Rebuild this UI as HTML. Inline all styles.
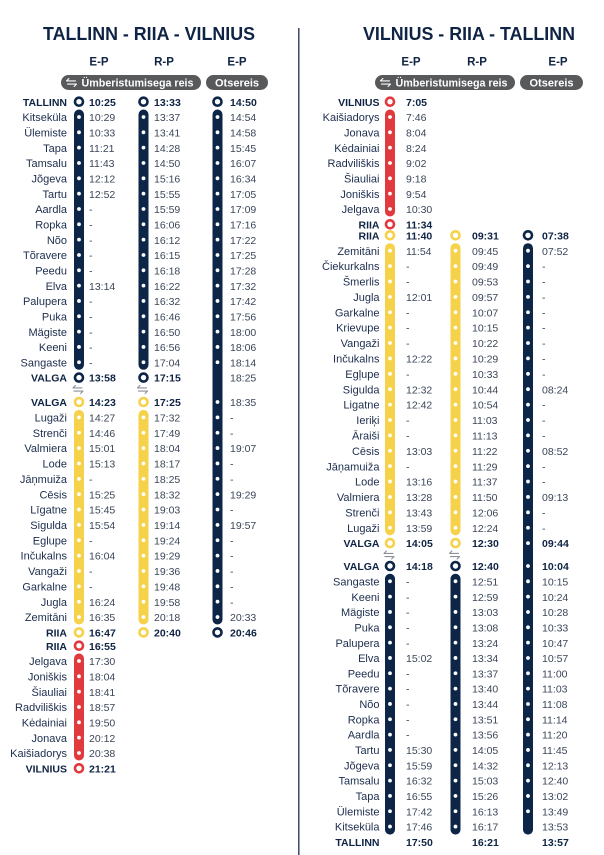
<!DOCTYPE html>
<html><head><meta charset="utf-8">
<style>
html,body{margin:0;padding:0;background:#fff;}
svg{display:block}
text{font-family:"Liberation Sans",sans-serif}
.ti{font-size:18px;font-weight:bold;fill:#0f2344}
.h{font-size:11.5px;font-weight:bold;fill:#0f2344;text-anchor:middle}
.p{font-size:11px;font-weight:bold;fill:#fff}
.s{font-size:11px;fill:#1c2d4d;text-anchor:end}
.sb{font-size:10.5px;font-weight:bold;fill:#0f2344;text-anchor:end}
.t{font-size:10.5px;fill:#3a4659}
.tb{font-size:10.5px;font-weight:bold;fill:#0f2344}
.nv{fill:#0d2647}
.yl{fill:#f6d24b}
.rd{fill:#e0393e}
.cn{fill:#fff;stroke:#0d2647;stroke-width:2.6}
.cy{fill:#fff;stroke:#f6d24b;stroke-width:2.6}
.cr{fill:#fff;stroke:#e0393e;stroke-width:2.6}
.d1{stroke:#fff;stroke-width:3.8;stroke-linecap:round;stroke-dasharray:0 15.33;fill:none}
.d2{stroke:#fff;stroke-width:3.8;stroke-linecap:round;stroke-dasharray:0 15.36;fill:none}
.d3{stroke:#fff;stroke-width:3.8;stroke-linecap:round;stroke-dasharray:0 15.39;fill:none}
.ar{fill:none;stroke:#8a8f99;stroke-width:1.1;stroke-linecap:round;stroke-linejoin:round}
.aw{fill:none;stroke:#fff;stroke-width:1.1;stroke-linecap:round;stroke-linejoin:round}
</style></head>
<body>
<svg width="604" height="855" viewBox="0 0 604 855" xmlns="http://www.w3.org/2000/svg">
<rect width="604" height="855" fill="#fff"/>
<line x1="298.8" y1="28" x2="298.8" y2="855" stroke="#2c3e5c" stroke-width="1.4"/>

<text class="ti" x="43" y="40" textLength="212" lengthAdjust="spacingAndGlyphs">TALLINN - RIIA - VILNIUS</text>
<text class="ti" x="363" y="40" textLength="212" lengthAdjust="spacingAndGlyphs">VILNIUS - RIIA - TALLINN</text>

<text class="h" x="99" y="65.5">E-P</text>
<text class="h" x="164" y="65.5">R-P</text>
<text class="h" x="237" y="65.5">E-P</text>
<text class="h" x="411" y="65.5">E-P</text>
<text class="h" x="477" y="65.5">R-P</text>
<text class="h" x="558" y="65.5">E-P</text>

<rect x="61" y="75" width="140" height="15" rx="7.5" fill="#58595b"/>
<g transform="translate(71.5,82.5)"><path class="aw" d="M-5,-1.6 H4 M-5,-1.6 L-2.6,-4 M-4,1.6 H5 M5,1.6 L2.6,4"/></g>
<text class="p" x="81.5" y="86.3" textLength="112" lengthAdjust="spacingAndGlyphs">Ümberistumisega reis</text>
<rect x="206" y="75" width="62" height="15" rx="7.5" fill="#58595b"/>
<text class="p" x="237" y="86.3" text-anchor="middle">Otsereis</text>

<rect x="375" y="75" width="140" height="15" rx="7.5" fill="#58595b"/>
<g transform="translate(385.5,82.5)"><path class="aw" d="M-5,-1.6 H4 M-5,-1.6 L-2.6,-4 M-4,1.6 H5 M5,1.6 L2.6,4"/></g>
<text class="p" x="395.5" y="86.3" textLength="112" lengthAdjust="spacingAndGlyphs">Ümberistumisega reis</text>
<rect x="520" y="75" width="63" height="15" rx="7.5" fill="#58595b"/>
<text class="p" x="551.5" y="86.3" text-anchor="middle">Otsereis</text>

<!-- LEFT TRACKS -->
<rect class="nv" x="74" y="109.5" width="10" height="260.3" rx="5"/>
<line class="d1" x1="79" y1="117" x2="79" y2="362.3"/>
<circle class="cn" cx="79" cy="101.7" r="4"/>
<circle class="cn" cx="79" cy="377.6" r="4"/>
<g transform="translate(78,389.5)"><path class="ar" d="M-5,-1.6 H4 M-5,-1.6 L-2.6,-4 M-4,1.6 H5 M5,1.6 L2.6,4"/></g>
<rect class="yl" x="74" y="409.9" width="10" height="214.6" rx="5"/>
<line class="d2" x1="79" y1="417.4" x2="79" y2="617.1"/>
<circle class="cy" cx="79" cy="402" r="4"/>
<circle class="cy" cx="79" cy="632.4" r="4"/>
<rect class="rd" x="74" y="653.5" width="10" height="107" rx="5"/>
<line class="d1" x1="79" y1="661" x2="79" y2="753"/>
<circle class="cr" cx="79" cy="645.7" r="4"/>
<circle class="cr" cx="79" cy="768.3" r="4"/>

<rect class="nv" x="138.5" y="109.5" width="10" height="260.3" rx="5"/>
<line class="d1" x1="143.5" y1="117" x2="143.5" y2="362.3"/>
<circle class="cn" cx="143.5" cy="101.7" r="4"/>
<circle class="cn" cx="143.5" cy="377.6" r="4"/>
<g transform="translate(142.5,389.5)"><path class="ar" d="M-5,-1.6 H4 M-5,-1.6 L-2.6,-4 M-4,1.6 H5 M5,1.6 L2.6,4"/></g>
<rect class="yl" x="138.5" y="409.9" width="10" height="214.6" rx="5"/>
<line class="d2" x1="143.5" y1="417.4" x2="143.5" y2="617.1"/>
<circle class="cy" cx="143.5" cy="402" r="4"/>
<circle class="cy" cx="143.5" cy="632.4" r="4"/>

<rect class="nv" x="212.5" y="109.5" width="10" height="515" rx="5"/>
<line class="d1" x1="217.5" y1="117" x2="217.5" y2="377.6"/>
<line class="d2" x1="217.5" y1="402" x2="217.5" y2="617.1"/>
<circle class="cn" cx="217.5" cy="101.7" r="4"/>
<circle class="cn" cx="217.5" cy="632.4" r="4"/>

<!-- RIGHT TRACKS -->
<rect class="rd" x="385" y="109.5" width="10" height="107" rx="5"/>
<line class="d1" x1="390" y1="117" x2="390" y2="209"/>
<circle class="cr" cx="390" cy="101.7" r="4"/>
<circle class="cr" cx="390" cy="224.3" r="4"/>
<rect class="yl" x="385" y="243.2" width="10" height="292" rx="5"/>
<line class="d3" x1="390" y1="250.7" x2="390" y2="527.8"/>
<circle class="cy" cx="390" cy="235.3" r="4"/>
<circle class="cy" cx="390" cy="543.1" r="4"/>
<g transform="translate(389,555)"><path class="ar" d="M-5,-1.6 H4 M-5,-1.6 L-2.6,-4 M-4,1.6 H5 M5,1.6 L2.6,4"/></g>
<rect class="nv" x="385" y="573.8" width="10" height="260.8" rx="5"/>
<line class="d1" x1="390" y1="581.3" x2="390" y2="826.6"/>
<circle class="cn" cx="390" cy="566" r="4"/>

<rect class="yl" x="450.5" y="243.2" width="10" height="292" rx="5"/>
<line class="d3" x1="455.5" y1="250.7" x2="455.5" y2="527.8"/>
<circle class="cy" cx="455.5" cy="235.3" r="4"/>
<circle class="cy" cx="455.5" cy="543.1" r="4"/>
<g transform="translate(454.5,555)"><path class="ar" d="M-5,-1.6 H4 M-5,-1.6 L-2.6,-4 M-4,1.6 H5 M5,1.6 L2.6,4"/></g>
<rect class="nv" x="450.5" y="573.8" width="10" height="260.8" rx="5"/>
<line class="d1" x1="455.5" y1="581.3" x2="455.5" y2="826.6"/>
<circle class="cn" cx="455.5" cy="566" r="4"/>

<rect class="nv" x="523" y="243.2" width="10" height="591.4" rx="5"/>
<line class="d3" x1="528" y1="250.7" x2="528" y2="543.2"/>
<line class="d1" x1="528" y1="566" x2="528" y2="826.6"/>
<circle class="cn" cx="528" cy="235.3" r="4"/>

<!-- LEFT STATIONS -->
<g transform="translate(67,0.3)">
<text class="sb" y="105.5">TALLINN</text>
<text class="s" y="120.8">Kitseküla</text>
<text class="s" y="136.2">Ülemiste</text>
<text class="s" y="151.5">Tapa</text>
<text class="s" y="166.8">Tamsalu</text>
<text class="s" y="182.2">Jõgeva</text>
<text class="s" y="197.5">Tartu</text>
<text class="s" y="212.8">Aardla</text>
<text class="s" y="228.1">Ropka</text>
<text class="s" y="243.5">Nõo</text>
<text class="s" y="258.8">Tõravere</text>
<text class="s" y="274.1">Peedu</text>
<text class="s" y="289.5">Elva</text>
<text class="s" y="304.8">Palupera</text>
<text class="s" y="320.1">Puka</text>
<text class="s" y="335.5">Mägiste</text>
<text class="s" y="350.8">Keeni</text>
<text class="s" y="366.1">Sangaste</text>
<text class="sb" y="381.4">VALGA</text>
<text class="sb" y="405.8">VALGA</text>
<text class="s" y="421.2">Lugaži</text>
<text class="s" y="436.5">Strenči</text>
<text class="s" y="451.9">Valmiera</text>
<text class="s" y="467.2">Lode</text>
<text class="s" y="482.6">Jāņmuiža</text>
<text class="s" y="498.0">Cēsis</text>
<text class="s" y="513.3">Līgatne</text>
<text class="s" y="528.7">Sigulda</text>
<text class="s" y="544.0">Eglupe</text>
<text class="s" y="559.4">Inčukalns</text>
<text class="s" y="574.8">Vangaži</text>
<text class="s" y="590.1">Garkalne</text>
<text class="s" y="605.5">Jugla</text>
<text class="s" y="620.8">Zemitāni</text>
<text class="sb" y="636.2">RIIA</text>
<text class="sb" y="649.5">RIIA</text>
<text class="s" y="664.8">Jelgava</text>
<text class="s" y="680.2">Joniškis</text>
<text class="s" y="695.5">Šiauliai</text>
<text class="s" y="710.8">Radviliškis</text>
<text class="s" y="726.2">Kėdainiai</text>
<text class="s" y="741.5">Jonava</text>
<text class="s" y="756.8">Kaišiadorys</text>
<text class="sb" y="772.1">VILNIUS</text>
</g>

<g transform="translate(89,0.3)">
<text class="tb" y="105.5">10:25</text>
<text class="t" y="120.8">10:29</text>
<text class="t" y="136.2">10:33</text>
<text class="t" y="151.5">11:21</text>
<text class="t" y="166.8">11:43</text>
<text class="t" y="182.2">12:12</text>
<text class="t" y="197.5">12:52</text>
<text class="t" y="212.8">-</text>
<text class="t" y="228.1">-</text>
<text class="t" y="243.5">-</text>
<text class="t" y="258.8">-</text>
<text class="t" y="274.1">-</text>
<text class="t" y="289.5">13:14</text>
<text class="t" y="304.8">-</text>
<text class="t" y="320.1">-</text>
<text class="t" y="335.5">-</text>
<text class="t" y="350.8">-</text>
<text class="t" y="366.1">-</text>
<text class="tb" y="381.4">13:58</text>
<text class="tb" y="405.8">14:23</text>
<text class="t" y="421.2">14:27</text>
<text class="t" y="436.5">14:46</text>
<text class="t" y="451.9">15:01</text>
<text class="t" y="467.2">15:13</text>
<text class="t" y="482.6">-</text>
<text class="t" y="498.0">15:25</text>
<text class="t" y="513.3">15:45</text>
<text class="t" y="528.7">15:54</text>
<text class="t" y="544.0">-</text>
<text class="t" y="559.4">16:04</text>
<text class="t" y="574.8">-</text>
<text class="t" y="590.1">-</text>
<text class="t" y="605.5">16:24</text>
<text class="t" y="620.8">16:35</text>
<text class="tb" y="636.2">16:47</text>
<text class="tb" y="649.5">16:55</text>
<text class="t" y="664.8">17:30</text>
<text class="t" y="680.2">18:04</text>
<text class="t" y="695.5">18:41</text>
<text class="t" y="710.8">18:57</text>
<text class="t" y="726.2">19:50</text>
<text class="t" y="741.5">20:12</text>
<text class="t" y="756.8">20:38</text>
<text class="tb" y="772.1">21:21</text>
</g>

<g transform="translate(154,0.3)">
<text class="tb" y="105.5">13:33</text>
<text class="t" y="120.8">13:37</text>
<text class="t" y="136.2">13:41</text>
<text class="t" y="151.5">14:28</text>
<text class="t" y="166.8">14:50</text>
<text class="t" y="182.2">15:16</text>
<text class="t" y="197.5">15:55</text>
<text class="t" y="212.8">15:59</text>
<text class="t" y="228.1">16:06</text>
<text class="t" y="243.5">16:12</text>
<text class="t" y="258.8">16:15</text>
<text class="t" y="274.1">16:18</text>
<text class="t" y="289.5">16:22</text>
<text class="t" y="304.8">16:32</text>
<text class="t" y="320.1">16:46</text>
<text class="t" y="335.5">16:50</text>
<text class="t" y="350.8">16:56</text>
<text class="t" y="366.1">17:04</text>
<text class="tb" y="381.4">17:15</text>
<text class="tb" y="405.8">17:25</text>
<text class="t" y="421.2">17:32</text>
<text class="t" y="436.5">17:49</text>
<text class="t" y="451.9">18:04</text>
<text class="t" y="467.2">18:17</text>
<text class="t" y="482.6">18:25</text>
<text class="t" y="498.0">18:32</text>
<text class="t" y="513.3">19:03</text>
<text class="t" y="528.7">19:14</text>
<text class="t" y="544.0">19:24</text>
<text class="t" y="559.4">19:29</text>
<text class="t" y="574.8">19:36</text>
<text class="t" y="590.1">19:48</text>
<text class="t" y="605.5">19:58</text>
<text class="t" y="620.8">20:18</text>
<text class="tb" y="636.2">20:40</text>
</g>

<g transform="translate(230,0.3)">
<text class="tb" y="105.5">14:50</text>
<text class="t" y="120.8">14:54</text>
<text class="t" y="136.2">14:58</text>
<text class="t" y="151.5">15:45</text>
<text class="t" y="166.8">16:07</text>
<text class="t" y="182.2">16:34</text>
<text class="t" y="197.5">17:05</text>
<text class="t" y="212.8">17:09</text>
<text class="t" y="228.1">17:16</text>
<text class="t" y="243.5">17:22</text>
<text class="t" y="258.8">17:25</text>
<text class="t" y="274.1">17:28</text>
<text class="t" y="289.5">17:32</text>
<text class="t" y="304.8">17:42</text>
<text class="t" y="320.1">17:56</text>
<text class="t" y="335.5">18:00</text>
<text class="t" y="350.8">18:06</text>
<text class="t" y="366.1">18:14</text>
<text class="t" y="381.4">18:25</text>
<text class="t" y="405.8">18:35</text>
<text class="t" y="421.2">-</text>
<text class="t" y="436.5">-</text>
<text class="t" y="451.9">19:07</text>
<text class="t" y="467.2">-</text>
<text class="t" y="482.6">-</text>
<text class="t" y="498.0">19:29</text>
<text class="t" y="513.3">-</text>
<text class="t" y="528.7">19:57</text>
<text class="t" y="544.0">-</text>
<text class="t" y="559.4">-</text>
<text class="t" y="574.8">-</text>
<text class="t" y="590.1">-</text>
<text class="t" y="605.5">-</text>
<text class="t" y="620.8">20:33</text>
<text class="tb" y="636.2">20:46</text>
</g>

<!-- RIGHT STATIONS -->
<g transform="translate(379.5,0.3)">
<text class="sb" y="105.5">VILNIUS</text>
<text class="s" y="120.8">Kaišiadorys</text>
<text class="s" y="136.2">Jonava</text>
<text class="s" y="151.5">Kėdainiai</text>
<text class="s" y="166.8">Radviliškis</text>
<text class="s" y="182.2">Šiauliai</text>
<text class="s" y="197.5">Joniškis</text>
<text class="s" y="212.8">Jelgava</text>
<text class="sb" y="228.1">RIIA</text>
<text class="sb" y="239.1">RIIA</text>
<text class="s" y="254.5">Zemitāni</text>
<text class="s" y="269.9">Čiekurkalns</text>
<text class="s" y="285.3">Šmerlis</text>
<text class="s" y="300.7">Jugla</text>
<text class="s" y="316.1">Garkalne</text>
<text class="s" y="331.4">Krievupe</text>
<text class="s" y="346.8">Vangaži</text>
<text class="s" y="362.2">Inčukalns</text>
<text class="s" y="377.6">Egļupe</text>
<text class="s" y="393.0">Sigulda</text>
<text class="s" y="408.4">Ligatne</text>
<text class="s" y="423.8">Ieriķi</text>
<text class="s" y="439.2">Āraiši</text>
<text class="s" y="454.6">Cēsis</text>
<text class="s" y="470.0">Jāņamuiža</text>
<text class="s" y="485.3">Lode</text>
<text class="s" y="500.7">Valmiera</text>
<text class="s" y="516.1">Strenči</text>
<text class="s" y="531.5">Lugaži</text>
<text class="sb" y="546.9">VALGA</text>
<text class="sb" y="569.8">VALGA</text>
<text class="s" y="585.1">Sangaste</text>
<text class="s" y="600.5">Keeni</text>
<text class="s" y="615.8">Mägiste</text>
<text class="s" y="631.1">Puka</text>
<text class="s" y="646.5">Palupera</text>
<text class="s" y="661.8">Elva</text>
<text class="s" y="677.1">Peedu</text>
<text class="s" y="692.4">Tõravere</text>
<text class="s" y="707.8">Nõo</text>
<text class="s" y="723.1">Ropka</text>
<text class="s" y="738.4">Aardla</text>
<text class="s" y="753.8">Tartu</text>
<text class="s" y="769.1">Jõgeva</text>
<text class="s" y="784.4">Tamsalu</text>
<text class="s" y="799.8">Tapa</text>
<text class="s" y="815.1">Ülemiste</text>
<text class="s" y="830.4">Kitseküla</text>
<text class="sb" y="845.8">TALLINN</text>
</g>

<g transform="translate(406,0.3)">
<text class="tb" y="105.5">7:05</text>
<text class="t" y="120.8">7:46</text>
<text class="t" y="136.2">8:04</text>
<text class="t" y="151.5">8:24</text>
<text class="t" y="166.8">9:02</text>
<text class="t" y="182.2">9:18</text>
<text class="t" y="197.5">9:54</text>
<text class="t" y="212.8">10:30</text>
<text class="tb" y="228.1">11:34</text>
<text class="tb" y="239.1">11:40</text>
<text class="t" y="254.5">11:54</text>
<text class="t" y="269.9">-</text>
<text class="t" y="285.3">-</text>
<text class="t" y="300.7">12:01</text>
<text class="t" y="316.1">-</text>
<text class="t" y="331.4">-</text>
<text class="t" y="346.8">-</text>
<text class="t" y="362.2">12:22</text>
<text class="t" y="377.6">-</text>
<text class="t" y="393.0">12:32</text>
<text class="t" y="408.4">12:42</text>
<text class="t" y="423.8">-</text>
<text class="t" y="439.2">-</text>
<text class="t" y="454.6">13:03</text>
<text class="t" y="470.0">-</text>
<text class="t" y="485.3">13:16</text>
<text class="t" y="500.7">13:28</text>
<text class="t" y="516.1">13:43</text>
<text class="t" y="531.5">13:59</text>
<text class="tb" y="546.9">14:05</text>
<text class="tb" y="569.8">14:18</text>
<text class="t" y="585.1">-</text>
<text class="t" y="600.5">-</text>
<text class="t" y="615.8">-</text>
<text class="t" y="631.1">-</text>
<text class="t" y="646.5">-</text>
<text class="t" y="661.8">15:02</text>
<text class="t" y="677.1">-</text>
<text class="t" y="692.4">-</text>
<text class="t" y="707.8">-</text>
<text class="t" y="723.1">-</text>
<text class="t" y="738.4">-</text>
<text class="t" y="753.8">15:30</text>
<text class="t" y="769.1">15:59</text>
<text class="t" y="784.4">16:32</text>
<text class="t" y="799.8">16:55</text>
<text class="t" y="815.1">17:42</text>
<text class="t" y="830.4">17:46</text>
<text class="tb" y="845.8">17:50</text>
</g>

<g transform="translate(472,0.3)">
<text class="tb" y="239.1">09:31</text>
<text class="t" y="254.5">09:45</text>
<text class="t" y="269.9">09:49</text>
<text class="t" y="285.3">09:53</text>
<text class="t" y="300.7">09:57</text>
<text class="t" y="316.1">10:07</text>
<text class="t" y="331.4">10:15</text>
<text class="t" y="346.8">10:22</text>
<text class="t" y="362.2">10:29</text>
<text class="t" y="377.6">10:33</text>
<text class="t" y="393.0">10:44</text>
<text class="t" y="408.4">10:54</text>
<text class="t" y="423.8">11:03</text>
<text class="t" y="439.2">11:13</text>
<text class="t" y="454.6">11:22</text>
<text class="t" y="470.0">11:29</text>
<text class="t" y="485.3">11:37</text>
<text class="t" y="500.7">11:50</text>
<text class="t" y="516.1">12:06</text>
<text class="t" y="531.5">12:24</text>
<text class="tb" y="546.9">12:30</text>
<text class="tb" y="569.8">12:40</text>
<text class="t" y="585.1">12:51</text>
<text class="t" y="600.5">12:59</text>
<text class="t" y="615.8">13:03</text>
<text class="t" y="631.1">13:08</text>
<text class="t" y="646.5">13:24</text>
<text class="t" y="661.8">13:34</text>
<text class="t" y="677.1">13:37</text>
<text class="t" y="692.4">13:40</text>
<text class="t" y="707.8">13:44</text>
<text class="t" y="723.1">13:51</text>
<text class="t" y="738.4">13:56</text>
<text class="t" y="753.8">14:05</text>
<text class="t" y="769.1">14:32</text>
<text class="t" y="784.4">15:03</text>
<text class="t" y="799.8">15:26</text>
<text class="t" y="815.1">16:13</text>
<text class="t" y="830.4">16:17</text>
<text class="tb" y="845.8">16:21</text>
</g>

<g transform="translate(542,0.3)">
<text class="tb" y="239.1">07:38</text>
<text class="t" y="254.5">07:52</text>
<text class="t" y="269.9">-</text>
<text class="t" y="285.3">-</text>
<text class="t" y="300.7">-</text>
<text class="t" y="316.1">-</text>
<text class="t" y="331.4">-</text>
<text class="t" y="346.8">-</text>
<text class="t" y="362.2">-</text>
<text class="t" y="377.6">-</text>
<text class="t" y="393.0">08:24</text>
<text class="t" y="408.4">-</text>
<text class="t" y="423.8">-</text>
<text class="t" y="439.2">-</text>
<text class="t" y="454.6">08:52</text>
<text class="t" y="470.0">-</text>
<text class="t" y="485.3">-</text>
<text class="t" y="500.7">09:13</text>
<text class="t" y="516.1">-</text>
<text class="t" y="531.5">-</text>
<text class="tb" y="546.9">09:44</text>
<text class="tb" y="569.8">10:04</text>
<text class="t" y="585.1">10:15</text>
<text class="t" y="600.5">10:24</text>
<text class="t" y="615.8">10:28</text>
<text class="t" y="631.1">10:33</text>
<text class="t" y="646.5">10:47</text>
<text class="t" y="661.8">10:57</text>
<text class="t" y="677.1">11:00</text>
<text class="t" y="692.4">11:03</text>
<text class="t" y="707.8">11:08</text>
<text class="t" y="723.1">11:14</text>
<text class="t" y="738.4">11:20</text>
<text class="t" y="753.8">11:45</text>
<text class="t" y="769.1">12:13</text>
<text class="t" y="784.4">12:40</text>
<text class="t" y="799.8">13:02</text>
<text class="t" y="815.1">13:49</text>
<text class="t" y="830.4">13:53</text>
<text class="tb" y="845.8">13:57</text>
</g>
</svg>
</body></html>
